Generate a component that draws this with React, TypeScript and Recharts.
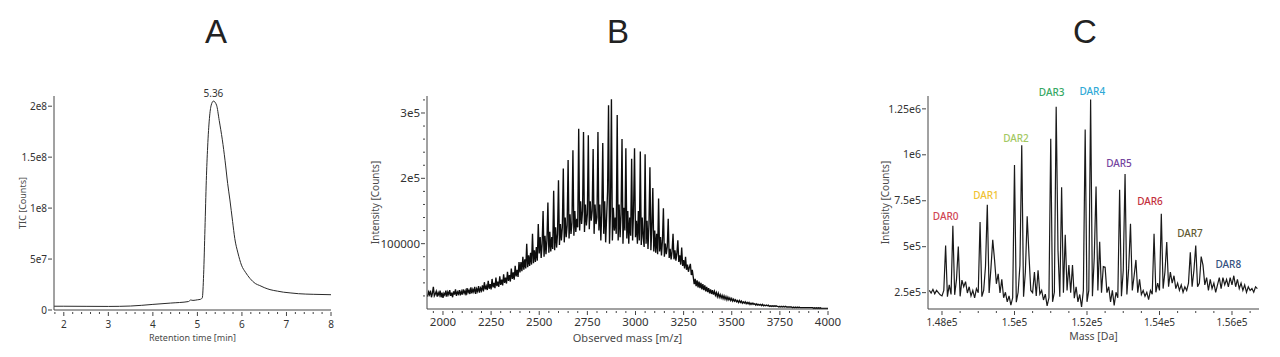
import React from "react"
import { LineChart, Line, XAxis, YAxis, ReferenceDot } from "recharts"

const FONT = "'Noto Sans', 'DejaVu Sans', sans-serif"
const AXIS = "#444"
const INK = "#333"

// A — total ion chromatogram
const ticTime = [
  1.78, 2.0, 2.5, 3.0, 3.5, 4.0, 4.4, 4.8, 4.85, 4.9, 5.0, 5.07, 5.11, 5.14, 5.17, 5.2, 5.23, 5.27, 5.31, 5.36,
  5.43, 5.49, 5.56, 5.62, 5.68, 5.73, 5.79, 5.84, 5.91, 5.99, 6.08, 6.18, 6.3, 6.4, 6.5, 6.63, 6.8, 6.93, 7.1,
  7.27, 7.6, 8.0,
]
// counts, millions
const ticMillions = [
  3.7, 3.7, 3.6, 3.5, 3.9, 5.5, 6.8, 8.3, 9.8, 9.4, 10, 10.5, 12, 35, 80, 127, 160, 188, 201, 205,
  201, 186, 167, 147, 124, 108, 87, 70, 56, 44, 37, 31, 26, 24, 22, 20, 18.5, 17.5, 16.7,
  16, 15.4, 15,
]
const ticXTicks = [2, 3, 4, 5, 6, 7, 8]
const ticXLabels = ["2", "3", "4", "5", "6", "7", "8"]
const ticYTicks = [0, 5e7, 1e8, 1.5e8, 2e8]
const ticYLabels = ["0", "5e7", "1e8", "1.5e8", "2e8"]
const ticApexTime = 5.36
const ticApexCounts = 205e6
const ticApexLabel = "5.36"

// B — raw m/z spectrum, one value every 5 m/z from 1920
const mzStart = 1920
const mzStep = 5
// intensity, thousands of counts (rows of 100 m/z)
const mzIntensityK = [
  19, 26, 22, 28, 18, 24, 34, 20, 23, 27, 19, 25, 21, 28, 18, 25,
  17, 24, 21, 28, 19, 26, 22, 29, 20, 25, 18, 27, 22, 30, 20, 26, 23, 29, 21, 27,
  22, 30, 24, 28, 21, 32, 25, 29, 23, 33, 24, 30, 26, 34, 23, 31, 27, 35, 25, 32,
  28, 36, 27, 41, 30, 35, 29, 43, 31, 38, 30, 46, 33, 40, 32, 48, 35, 42, 34, 50,
  37, 45, 36, 53, 40, 48, 39, 57, 43, 52, 42, 62, 46, 56, 45, 66, 50, 60, 49, 72,
  56, 72, 58, 80, 60, 76, 62, 100, 64, 82, 66, 86, 68, 115, 70, 90, 72, 95, 74, 130,
  85, 110, 78, 100, 150, 80, 112, 84, 105, 163, 86, 118, 88, 110, 92, 181, 90, 125, 94, 115,
  197, 98, 130, 105, 125, 215, 102, 140, 110, 128, 228, 108, 145, 115, 132, 243, 112, 150, 118, 138,
  125, 276, 120, 165, 130, 150, 271, 118, 160, 128, 145, 266, 122, 165, 135, 150, 245, 115, 160, 130,
  140, 271, 120, 160, 105, 150, 254, 115, 165, 102, 140, 180, 312, 100, 150, 321, 105, 155, 120, 140,
  115, 297, 105, 160, 110, 145, 260, 100, 155, 120, 246, 108, 150, 100, 140, 112, 230, 105, 150, 246,
  110, 135, 100, 150, 105, 241, 98, 140, 110, 95, 237, 100, 135, 92, 130, 217, 90, 125, 185, 88,
  120, 86, 115, 84, 169, 88, 110, 82, 105, 154, 80, 100, 84, 95, 138, 78, 92, 76, 88, 115,
  76, 90, 74, 85, 105, 72, 82, 68, 94, 66, 75, 62, 80, 60, 68, 57, 64, 69, 52, 60,
  49, 38, 46, 35, 44, 33, 42, 32, 40, 30, 38, 29, 36, 27, 34, 26, 32, 24, 30, 23,
  29, 22, 27, 21, 25, 19, 24, 18, 22, 17, 21, 16, 20, 15, 19, 14, 18, 14, 17, 13,
  16, 12, 15, 12, 14, 11, 13, 10, 13, 10, 12, 9, 11, 9, 11, 8, 10, 8, 10, 7,
  9, 7, 9, 7, 8, 6, 8, 6, 7, 6, 7, 5, 7, 5, 6, 5, 6, 5, 6, 4,
  5, 4, 5, 4, 5, 4, 5, 4, 4, 3, 4, 3, 4, 3, 4, 3, 4, 3, 3, 3,
  3, 3, 3, 2, 3, 2, 3, 2, 3, 2, 3, 2, 2, 2, 2, 2, 2, 2, 2, 2,
  2, 2, 2, 2, 2, 1, 2, 1, 2, 1, 2, 1, 2, 1, 1, 1, 1, 1, 1, 1,
  1,
]
const mzXTicks = [2000, 2250, 2500, 2750, 3000, 3250, 3500, 3750, 4000]
const mzXLabels = ["2000", "2250", "2500", "2750", "3000", "3250", "3500", "3750", "4000"]
const mzYTicks = [100000, 200000, 300000]
const mzYLabels = ["100000", "2e5", "3e5"]

// C — deconvoluted mass spectrum, one value every 50 Da from 147650
const daStart = 147650
const daStep = 50
const daIntensityK = [
  262, 248, 268, 244, 262, 250, 238,
  232, 262, 506, 228, 292, 240, 614, 238, 322, 501, 230, 318, 282, 310, 248, 282, 232, 262, 222, 272,
  250, 634, 228, 262, 392, 728, 248, 382, 537, 428, 298, 352, 248, 322, 222, 252, 200, 232, 182, 222,
  945, 198, 252, 398, 1052, 228, 362, 665, 452, 262, 250, 362, 232, 372, 242, 262, 210, 242, 178, 222,
  1087, 200, 252, 1261, 480, 228, 823, 250, 565, 262, 400, 250, 400, 220, 282, 200, 240, 172, 262, 1138,
  200, 262, 1301, 230, 440, 828, 262, 527, 250, 392, 388, 250, 282, 200, 262, 180, 252, 222, 810, 230,
  370, 896, 240, 382, 625, 262, 342, 428, 250, 322, 240, 262, 230, 252, 212, 262, 242, 570, 252, 302,
  262, 679, 272, 362, 525, 282, 362, 302, 342, 272, 302, 262, 292, 252, 282, 262, 302, 470, 282, 372,
  506, 282, 302, 446, 400, 292, 332, 262, 322, 272, 302, 252, 292, 332, 272, 332, 292, 322, 282, 332,
  292, 342, 282, 322, 272, 302, 262, 292, 252, 282, 262, 272, 252, 282, 272,
]
const daXTicks = [148000, 150000, 152000, 154000, 156000]
const daXLabels = ["1.48e5", "1.5e5", "1.52e5", "1.54e5", "1.56e5"]
const daYTicks = [250000, 500000, 750000, 1000000, 1250000]
const daYLabels = ["2.5e5", "5e5", "7.5e5", "1e6", "1.25e6"]

const darNames = ["DAR0", "DAR1", "DAR2", "DAR3", "DAR4", "DAR5", "DAR6", "DAR7", "DAR8"]
const darMass = [148100, 149214, 150041, 151026, 152146, 152883, 153738, 154841, 155898]
const darLevel = [665e3, 779e3, 1090e3, 1341e3, 1345e3, 952e3, 745e3, 570e3, 401e3]
const darColors = ["#d04552", "#f0c232", "#a3c862", "#35a863", "#2fa9d6", "#74449e", "#c3303c", "#625a32", "#33507e"]

const panelTitles = ["A", "B", "C"]
const titleX = [216, 618, 1085]

function minorSteps(from: number, to: number, step: number) {
  const out: number[] = []
  for (let v = from; v <= to + step * 1e-6; v += step) out.push(+v.toFixed(6))
  return out
}

function isSame(a: number, b: number) {
  return Math.abs(a - b) <= 1e-7 * Math.max(1, Math.abs(a))
}

function mergeTicks(majors: number[], minors: number[]) {
  return [...majors, ...minors].filter((v, i, a) => a.findIndex((w) => isSame(w, v)) === i).sort((a, b) => a - b)
}

type TickOpts = { majors: number[]; labels: string[]; size: number; major: number; minor: number; gap: number }

function xTick(o: TickOpts) {
  return (p: any) => {
    const v = p.payload.value
    const i = o.majors.findIndex((m) => isSame(m, v))
    return (
      <g>
        <line x1={p.x} x2={p.x} y1={p.y} y2={p.y + (i >= 0 ? o.major : o.minor)} stroke={AXIS} />
        {i >= 0 && (
          <text x={p.x} y={p.y + o.major + o.gap} dy="0.71em" textAnchor="middle" fontSize={o.size} fill={INK} fontFamily={FONT}>
            {o.labels[i]}
          </text>
        )}
      </g>
    )
  }
}

function yTick(o: TickOpts) {
  return (p: any) => {
    const v = p.payload.value
    const i = o.majors.findIndex((m) => isSame(m, v))
    return (
      <g>
        <line x1={p.x - (i >= 0 ? o.major : o.minor)} x2={p.x} y1={p.y} y2={p.y} stroke={AXIS} />
        {i >= 0 && (
          <text x={p.x - o.major - o.gap} y={p.y} dy="0.35em" textAnchor="end" fontSize={o.size} fill={INK} fontFamily={FONT}>
            {o.labels[i]}
          </text>
        )}
      </g>
    )
  }
}

function axisTitle(text: string, size: number, offset: number, vertical = false) {
  return (p: any) => {
    const vb = p.viewBox
    const cx = vertical ? vb.x + offset : vb.x + vb.width / 2
    const cy = vertical ? vb.y + vb.height / 2 : vb.y + offset
    return (
      <text
        x={cx}
        y={cy}
        transform={vertical ? `rotate(-90 ${cx} ${cy})` : undefined}
        textAnchor="middle"
        dominantBaseline="central"
        fontSize={size}
        fill="#4a4a4a"
        fontFamily={FONT}
      >
        {text}
      </text>
    )
  }
}

function PanelA() {
  const data = ticTime.map((t, i) => ({ t, v: ticMillions[i] * 1e6 }))
  const xt = mergeTicks(ticXTicks, minorSteps(1.8, 8, 0.2))
  return (
    <LineChart width={345} height={357} data={data} margin={{ top: 96, right: 14, bottom: 17, left: 14 }}>
      <XAxis
        dataKey="t"
        type="number"
        domain={[1.78, 8]}
        ticks={xt}
        interval={0}
        height={30}
        tickSize={0}
        tickLine={false}
        axisLine={{ stroke: AXIS }}
        tick={xTick({ majors: ticXTicks, labels: ticXLabels, size: 10, major: 4, minor: 2, gap: 5 })}
        label={{ content: axisTitle("Retention time [min]", 9, 27) }}
      />
      <YAxis
        type="number"
        domain={[0, 2.1e8]}
        ticks={ticYTicks}
        interval={0}
        width={40}
        tickSize={0}
        tickLine={false}
        axisLine={{ stroke: AXIS }}
        tick={yTick({ majors: ticYTicks, labels: ticYLabels, size: 10, major: 4, minor: 2, gap: 1 })}
        label={{ content: axisTitle("TIC [Counts]", 9, 8, true) }}
      />
      <Line dataKey="v" type="monotone" stroke="#2a2a2a" strokeWidth={1} dot={false} isAnimationActive={false} />
      <ReferenceDot
        x={ticApexTime}
        y={ticApexCounts}
        r={0}
        ifOverflow="visible"
        shape={(p: any) => (
          <text x={p.cx} y={p.cy - 4} textAnchor="middle" fontSize={10} fill={INK} fontFamily={FONT}>
            {ticApexLabel}
          </text>
        )}
      />
    </LineChart>
  )
}

function PanelB() {
  const data = mzIntensityK.map((v, i) => ({ mz: mzStart + i * mzStep, v: v * 1000 }))
  const xt = mergeTicks(mzXTicks, minorSteps(1950, 4000, 50))
  const yt = mergeTicks(mzYTicks, minorSteps(20000, 320000, 20000))
  return (
    <LineChart width={500} height={357} data={data} margin={{ top: 96, right: 32, bottom: 18, left: 17 }}>
      <XAxis
        dataKey="mz"
        type="number"
        domain={[1917, 4000]}
        ticks={xt}
        interval={0}
        height={30}
        tickSize={0}
        tickLine={false}
        axisLine={{ stroke: AXIS }}
        tick={xTick({ majors: mzXTicks, labels: mzXLabels, size: 11.5, major: 4, minor: 2, gap: 3 })}
        label={{ content: axisTitle("Observed mass [m/z]", 11, 28) }}
      />
      <YAxis
        type="number"
        domain={[0, 326000]}
        ticks={yt}
        interval={0}
        width={50}
        tickSize={0}
        tickLine={false}
        axisLine={{ stroke: AXIS }}
        tick={yTick({ majors: mzYTicks, labels: mzYLabels, size: 11.5, major: 4, minor: 2, gap: 1 })}
        label={{ content: axisTitle("Intensity [Counts]", 10, -2, true) }}
      />
      <Line dataKey="v" type="linear" stroke="#0d0d0d" strokeWidth={1.35} dot={false} isAnimationActive={false} />
    </LineChart>
  )
}

function PanelC() {
  const data = daIntensityK.map((v, i) => ({ da: daStart + i * daStep, v: v * 1000 }))
  const xt = mergeTicks(daXTicks, minorSteps(148000, 156500, 500))
  return (
    <LineChart width={420} height={357} data={data} margin={{ top: 96, right: 21, bottom: 18, left: 18 }}>
      <XAxis
        dataKey="da"
        type="number"
        domain={[147614, 156745]}
        ticks={xt}
        interval={0}
        height={30}
        tickSize={0}
        tickLine={false}
        axisLine={{ stroke: AXIS }}
        tick={xTick({ majors: daXTicks, labels: daXLabels, size: 10, major: 4, minor: 2, gap: 4 })}
        label={{ content: axisTitle("Mass [Da]", 10.5, 27) }}
      />
      <YAxis
        type="number"
        domain={[161000, 1320000]}
        ticks={daYTicks}
        interval={0}
        width={50}
        tickSize={0}
        tickLine={false}
        axisLine={{ stroke: AXIS }}
        tick={yTick({ majors: daYTicks, labels: daYLabels, size: 10.5, major: 4, minor: 2, gap: 1 })}
        label={{ content: axisTitle("Intensity [Counts]", 10, 7, true) }}
      />
      <Line dataKey="v" type="linear" stroke="#1a1a1a" strokeWidth={1.2} dot={false} isAnimationActive={false} />
      {darNames.map((name, i) => (
        <ReferenceDot
          key={name}
          x={darMass[i]}
          y={darLevel[i]}
          r={0}
          ifOverflow="visible"
          shape={(p: any) => (
            <text x={p.cx} y={p.cy} dy="0.35em" textAnchor="middle" fontSize={10} fontWeight={500} fill={darColors[i]} fontFamily={FONT}>
              {name}
            </text>
          )}
        />
      ))}
    </LineChart>
  )
}

export default function App() {
  return (
    <div style={{ position: "absolute", left: 0, top: 0, width: 1280, height: 357, background: "#fff", overflow: "hidden" }}>
      <svg width={1280} height={60} style={{ position: "absolute", left: 0, top: 0 }}>
        {panelTitles.map((t, i) => (
          <text key={t} x={titleX[i]} y={43} textAnchor="middle" fontSize={33} fill="#222" fontFamily="'Liberation Sans', Arial, sans-serif">
            {t}
          </text>
        ))}
      </svg>
      <div style={{ position: "absolute", left: 0, top: 0 }}>
        <PanelA />
      </div>
      <div style={{ position: "absolute", left: 360, top: 0 }}>
        <PanelB />
      </div>
      <div style={{ position: "absolute", left: 860, top: 0 }}>
        <PanelC />
      </div>
    </div>
  )
}
